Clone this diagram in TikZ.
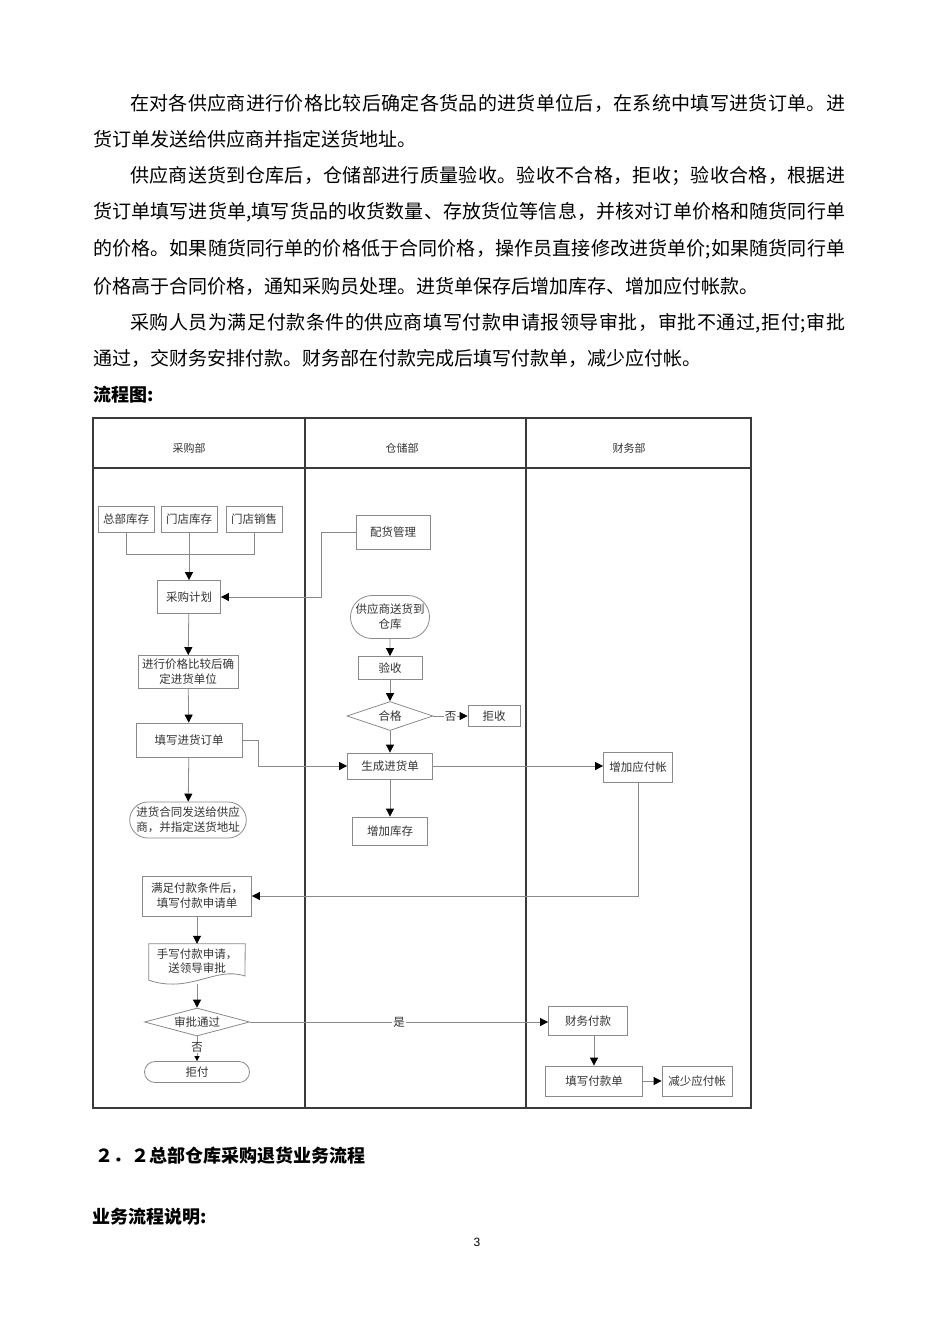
\documentclass[tikz,border=0pt]{standalone}
\usepackage{fontspec}
\newfontfamily\cjk{Noto Sans CJK SC}
\newfontfamily\numfont{Liberation Sans}
\usetikzlibrary{arrows.meta,shapes.geometric,shapes.misc}
\def\spr#1{#1\spra}
\def\spra#1{\ifx#1\relax\else\hskip0pt plus 1fil #1\expandafter\spra\fi}
\definecolor{lanecol}{HTML}{3A3A3A}
\definecolor{boxcol}{HTML}{8A8A8A}
\definecolor{txtcol}{HTML}{333333}
\tikzset{
  body/.style={anchor=west,inner sep=0pt,font=\cjk\fontsize{19}{22}\selectfont,text=black},
  head/.style={anchor=west,inner sep=0pt,font=\cjk\bfseries\fontsize{18}{21}\selectfont,text=black},
  lane/.style={draw=lanecol,line width=1.3pt},
  hdr/.style={inner sep=0pt,font=\cjk\fontsize{11}{13}\selectfont,text=txtcol},
  box/.style={draw=boxcol,line width=0.8pt,fill=white,text=txtcol,inner sep=1pt,align=center,
    font=\cjk\fontsize{11.5}{15}\selectfont},
  stad/.style={box,rounded rectangle},
  dia/.style={box,diamond,inner sep=0pt,aspect=3.6},
  arr/.style={draw=boxcol,line width=0.8pt,-{Triangle[length=8pt,width=8pt,black]}},
  lbl/.style={fill=white,inner sep=1pt,text=txtcol,font=\cjk\fontsize{11.5}{13}\selectfont},
}
\begin{document}
\begin{tikzpicture}[x=1pt,y=-1pt]
\useasboundingbox (0,0) rectangle (950,1344);
% body text
\node[body] (l1) at (130,103) {\hbox to 715pt{\spr 在对各供应商进行价格比较后确定各货品的进货单位后，在系统中填写进货订单。进\relax}};
\node[body] (l2) at (93,139) {货订单发送给供应商并指定送货地址。};
\node[body] (l3) at (130,176) {\hbox to 715pt{\spr 供应商送货到仓库后，仓储部进行质量验收。验收不合格，拒收；验收合格，根据进\relax}};
\node[body] (l4) at (93,212) {\hbox to 752pt{\spr 货订单填写进货单,填写货品的收货数量、存放货位等信息，并核对订单价格和随货同行单\relax}};
\node[body] (l5) at (93,249) {\hbox to 752pt{\spr 的价格。如果随货同行单的价格低于合同价格，操作员直接修改进货单价;如果随货同行单\relax}};
\node[body] (l6) at (93,286) {价格高于合同价格，通知采购员处理。进货单保存后增加库存、增加应付帐款。};
\node[body] (l7) at (130,323) {\hbox to 715pt{\spr 采购人员为满足付款条件的供应商填写付款申请报领导审批，审批不通过,拒付;审批\relax}};
\node[body] (l8) at (93,358) {通过，交财务安排付款。财务部在付款完成后填写付款单，减少应付帐。};
\node[head] (t1) at (93,395) {流程图:};
% lanes
\draw[lane] (93,418) rectangle (751,1108);
\draw[lane] (93,468) -- (751,468);
\draw[lane] (305,418) -- (305,1108);
\draw[lane] (526,418) -- (526,1108);
\node[hdr] (h1) at (189,448) {采购部};
\node[hdr] (h2) at (402,448) {仓储部};
\node[hdr] (h3) at (629,448) {财务部};
% lane 1
\node[box,minimum width=56pt,minimum height=26pt] (zb) at (126,519) {总部库存};
\node[box,minimum width=56pt,minimum height=26pt] (mk) at (189,519) {门店库存};
\node[box,minimum width=56pt,minimum height=26pt] (ms) at (254,519) {门店销售};
\coordinate (j) at (189,554);
\node[box,minimum width=63pt,minimum height=33pt] (cg) at (189,597) {采购计划};
\node[box,minimum width=100pt,minimum height=33pt] (jg) at (188,672) {进行价格比较后确\\定进货单位};
\node[box,minimum width=106pt,minimum height=34pt] (tx) at (189,740) {填写进货订单};
\node[stad,minimum width=111pt,minimum height=36pt] (ht) at (188,820) {进货合同发送给供应\\商，并指定送货地址};
% lane 2
\node[box,minimum width=74pt,minimum height=34pt] (ph) at (393,532) {配货管理};
\node[stad,minimum width=81pt,minimum height=43pt] (gy) at (390,617) {供应商送货到\\仓库};
\node[box,minimum width=64pt,minimum height=23pt] (ys) at (390,668) {验收};
\node[dia,minimum width=86pt,minimum height=29pt,aspect=3] (hg) at (390,716) {合格};
\node[box,minimum width=52pt,minimum height=21pt] (js) at (494,716) {拒收};
\node[box,minimum width=85pt,minimum height=26pt] (sc) at (390,766) {生成进货单};
\node[box,minimum width=75pt,minimum height=28pt] (zk) at (390,831) {增加库存};
% lane 3
\node[box,minimum width=69pt,minimum height=30pt] (zy) at (638,767) {增加应付帐};
% lower lane 1
\node[box,minimum width=109pt,minimum height=40pt] (mz) at (197,896) {满足付款条件后，\\填写付款申请单};
\node[inner sep=0pt,minimum width=96pt,minimum height=36pt,align=center,text=txtcol,
  font=\cjk\fontsize{11.5}{15}\selectfont] (doc) at (197,962) {\raisebox{3pt}{\shortstack{手写付款申请，\\送领导审批}}};
\draw[draw=boxcol,line width=0.8pt] (doc.south west) -- (doc.north west) -- (doc.north east) -- (245,976)
  .. controls (215,966) and (190,994) .. (doc.south west);
\node[dia,minimum width=105pt,minimum height=28pt,aspect=3.75] (sp) at (197,1022) {审批通过};
\node[stad,minimum width=107pt,minimum height=21pt] (jf) at (197,1072) {拒付};
% lower lane 3
\node[box,minimum width=79pt,minimum height=29pt] (cw) at (588,1021) {财务付款};
\node[box,minimum width=97pt,minimum height=30pt] (tf) at (594,1081) {填写付款单};
\node[box,minimum width=70pt,minimum height=30pt] (jsy) at (697,1081) {减少应付帐};
% connectors
\draw[draw=boxcol,line width=0.8pt] (zb.south) |- (j);
\draw[draw=boxcol,line width=0.8pt] (ms.south) |- (j);
\draw[arr] (mk.south) -- (cg.north);
\draw[arr] (ph.west) -- ++(-34,0) |- (cg.east);
\draw[arr] (cg) -- (jg);
\draw[arr] (jg) -- (tx);
\draw[arr] (tx) -- (ht);
\draw[arr] (tx.east) -- ++(16,0) |- (sc.west);
\draw[arr] (gy) -- (ys);
\draw[arr] (ys) -- (hg);
\draw[arr] (hg.east) -- node[lbl] {否} (js.west);
\draw[arr] (hg) -- (sc);
\draw[arr] (sc) -- (zk);
\draw[arr] (sc.east) -- (zy.west |- sc.east);
\draw[arr] (zy.south) |- (mz.east);
\draw[arr] (mz) -- (doc.north);
\draw[arr] (doc.south) ++(0,4) -- (sp.north);
\draw[arr] (sp.east) -- node[lbl] {是} (cw.west |- sp.east);
\draw[draw=boxcol,line width=0.8pt,-{Triangle[length=5pt,width=5pt,black]}] (sp.south) -- node[lbl,pos=0.45] {否} (jf.north);
\draw[arr] ([xshift=6pt]cw.south) -- ([xshift=6pt]cw.south |- tf.north);
\draw[arr] (tf.east) -- (jsy.west);
% bottom text
\node[head] (t2) at (95,1156) {２．２总部仓库采购退货业务流程};
\node[head] (t3) at (92,1217) {业务流程说明:};
\node[inner sep=0pt,font=\numfont\fontsize{12}{14}\selectfont] (pg) at (477,1242) {3};
\end{tikzpicture}
\end{document}
